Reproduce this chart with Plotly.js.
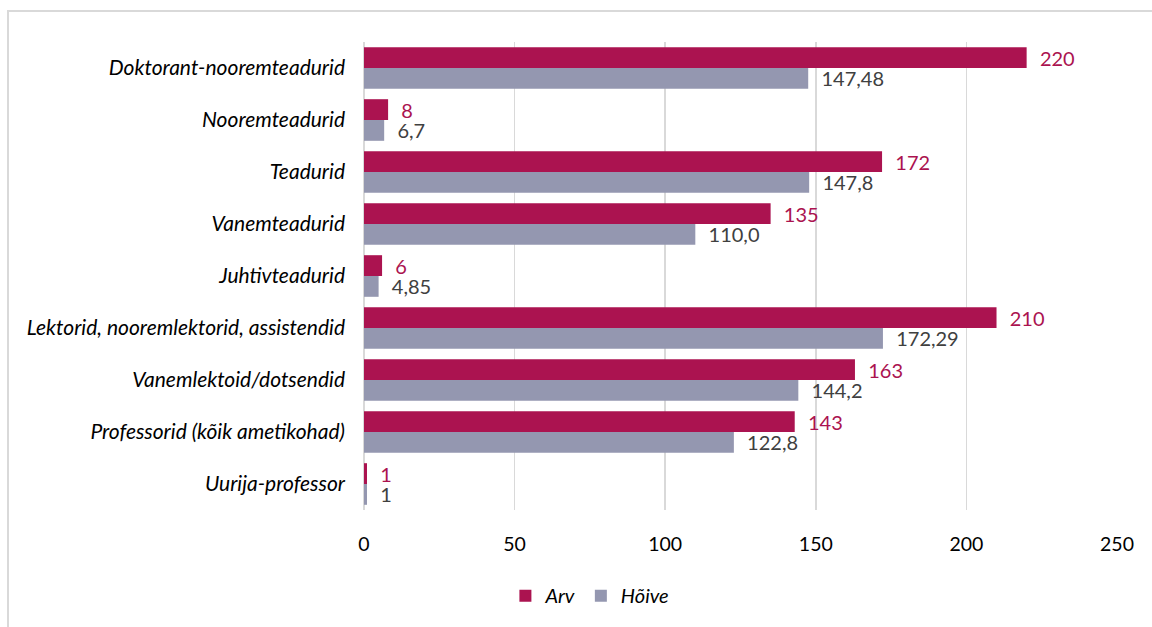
<!DOCTYPE html>
<html><head><meta charset="utf-8">
<script src="https://cdn.plot.ly/plotly-3.0.1.min.js"></script>
<style>
html,body{margin:0;padding:0;background:#fff;}
#frame{position:absolute;left:7px;top:10px;width:1200px;height:700px;border:2px solid #d9d9d9;box-sizing:border-box;}
#chart{position:absolute;left:0;top:0;width:1152px;height:627px;}
</style></head>
<body>
<div id="frame"></div>
<div id="chart"></div>
<script>
const categories = ["Doktorant-nooremteadurid","Nooremteadurid","Teadurid","Vanemteadurid","Juhtivteadurid","Lektorid, nooremlektorid, assistendid","Vanemlektoid/dotsendid","Professorid (kõik ametikohad)","Uurija-professor"];
const arv = [220, 8, 172, 135, 6, 210, 163, 143, 1];
const hoive = [147.48, 6.7, 147.8, 110.0, 4.85, 172.29, 144.2, 122.8, 1];
const arvLabels = ["220","8","172","135","6","210","163","143","1"];
const hoiveLabels = ["147,48","6,7","147,8","110,0","4,85","172,29","144,2","122,8","1"];
const xTicks = [0, 50, 100, 150, 200, 250];

const pad = "\u00a0\u00a0";
const font = "Lato, 'Open Sans', sans-serif";

const traces = [
  {type:"bar", orientation:"h", name:"Arv", y:categories, x:arv,
   marker:{color:"#AB1350"}, text:arvLabels.map(s=>pad+s), textposition:"outside", constraintext:"none",
   textfont:{color:"#AB1350", size:20, family:font}, cliponaxis:false, hoverinfo:"x"},
  {type:"bar", orientation:"h", name:"Hõive", y:categories, x:hoive,
   marker:{color:"#9497B0"}, text:hoiveLabels.map(s=>pad+s), textposition:"outside", constraintext:"none",
   textfont:{color:"#404040", size:20, family:font}, cliponaxis:false, hoverinfo:"x"}
];

const layout = {
  width:1152, height:627,
  margin:{l:364, r:35, t:42, b:113},
  paper_bgcolor:"rgba(0,0,0,0)", plot_bgcolor:"rgba(0,0,0,0)",
  barmode:"group", bargap:0.2, bargroupgap:0,
  font:{family:font, color:"#000"},
  showlegend:true,
  legend:{orientation:"h", x:0.3, xanchor:"center", y:-0.183, yanchor:"middle",
          font:{size:20, family:font, style:"italic", color:"#000"}, traceorder:"normal",
          itemwidth:30},
  xaxis:{range:[0,250], tickvals:xTicks, showgrid:true, gridcolor:"#d9d9d9", gridwidth:1.5,
         zeroline:true, zerolinecolor:"#d9d9d9", zerolinewidth:1.5, showline:false,
         ticks:"", tickfont:{size:19.5, family:font, color:"#000"}, ticklabelstandoff:20},
  yaxis:{autorange:"reversed", showgrid:false, zeroline:false, showline:false, ticks:"",
         tickfont:{size:21, family:font, style:"italic", color:"#000"}, ticklabelstandoff:18}
};

Plotly.newPlot("chart", traces, layout, {displayModeBar:false, staticPlot:true});
</script>
</body></html>
